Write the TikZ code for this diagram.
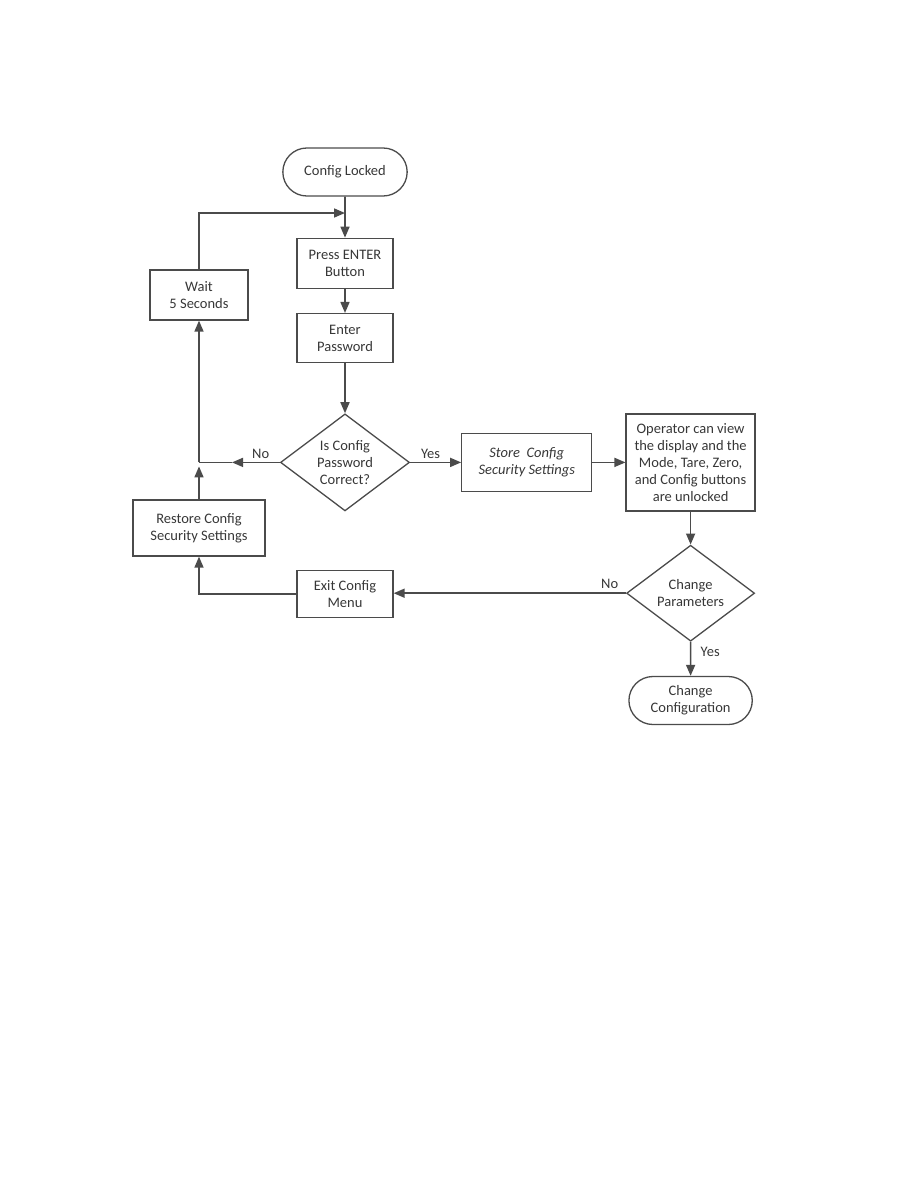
\documentclass[tikz,border=0pt]{standalone}
\usepackage{fontspec}
\setmainfont{Carlito}
\usepackage{tikz}
\usetikzlibrary{shapes.geometric, shapes.misc, arrows.meta, positioning, calc}
\definecolor{inkgray}{RGB}{55, 55, 55}
\definecolor{linegray}{RGB}{75, 75, 75}

\begin{document}
\begin{tikzpicture}[
    x=1pt, y=-1pt,
    node distance=24pt,
    every node/.style={text=inkgray, font=\fontsize{14.5}{17}\selectfont},
    box/.style={draw=linegray, line width=1.3pt, minimum width=96pt,
                minimum height=50pt, align=center, inner sep=1pt},
    term/.style={draw=linegray, line width=1.3pt, rounded rectangle,
                 minimum width=131pt, minimum height=48pt, align=center},
    decision/.style={draw=linegray, line width=1.3pt, diamond, aspect=1.33,
                     inner sep=0pt, minimum width=129pt, minimum height=97pt,
                     align=center},
    arrow/.style={-{Triangle[length=11pt, width=9pt]}, linegray, line width=1.6pt},
    line/.style={linegray, line width=1.6pt},
    lbl/.style={font=\fontsize{14.5}{15}\selectfont},
]
    \useasboundingbox (0,0) rectangle (918,1188);

    % main column
    \node[term] (locked) at (345,172) {Config Locked};
    \node[box, below=41pt of locked] (press) {Press ENTER\\Button};
    \node[box, below=24pt of press, minimum height=49pt] (enterpw) {Enter\\Password};
    \node[decision, below=50pt of enterpw] (pwd) {Is Config\\Password\\Correct?};
    \node[box, right=51pt of pwd, minimum width=130pt, minimum height=58pt,
          font=\fontsize{14.5}{17}\selectfont\itshape] (store)
        {Store\ \ Config\\Security Settings};
    \node[box, right=33pt of store, minimum width=129pt, minimum height=97pt]
        (oper) {Operator can view\\the display and the\\Mode, Tare, Zero,\\and Config buttons\\are unlocked};
    \node[decision, below=33pt of oper, minimum width=128pt, minimum height=96pt]
        (chg) {Change\\Parameters};
    \node[term, below=34pt of chg, minimum width=130pt] (cfg) {Change\\Configuration};
    \node[box, below=58pt of pwd, minimum height=47pt] (exitm) {Exit Config\\Menu};

    % left column
    \node[box, minimum width=132pt, minimum height=56pt] (restore) at (199,528)
        {Restore Config\\Security Settings};
    \node[box, minimum width=98pt] (wait) at (199,295) {Wait\\5 Seconds};

    \coordinate (merge) at (345,213);
    \coordinate (jn) at (wait.south |- pwd.west);
    \coordinate (notip) at ($(jn)+(33,0)$);

    \draw[line] (locked) -- (merge);
    \draw[arrow] (merge) -- (press);
    \draw[arrow] (wait.north) |- (merge);
    \draw[arrow] (press) -- (enterpw);
    \draw[arrow] (enterpw) -- (pwd);
    \draw[arrow] (pwd) -- node[lbl, above, pos=0.4]{Yes} (store);
    \draw[arrow] (store) -- (oper);
    \draw[arrow] (oper) -- (chg);
    \draw[arrow] (chg) -- node[lbl, right=6pt, pos=0.3]{Yes} (cfg);
    \draw[arrow] (chg.west) -- node[lbl, above, pos=0.07]{No} (chg.west -| exitm.east);
    \draw[arrow] (exitm.west) -| (restore.south);
    \draw[arrow] (pwd.west) -- node[lbl, above, pos=0.4]{No} (notip);
    \draw[line] (notip) -- (jn);
    \draw[arrow] (restore.north) -- ($(jn)+(0,4)$);
    \draw[arrow] (jn) -- (wait.south);
\end{tikzpicture}
\end{document}
